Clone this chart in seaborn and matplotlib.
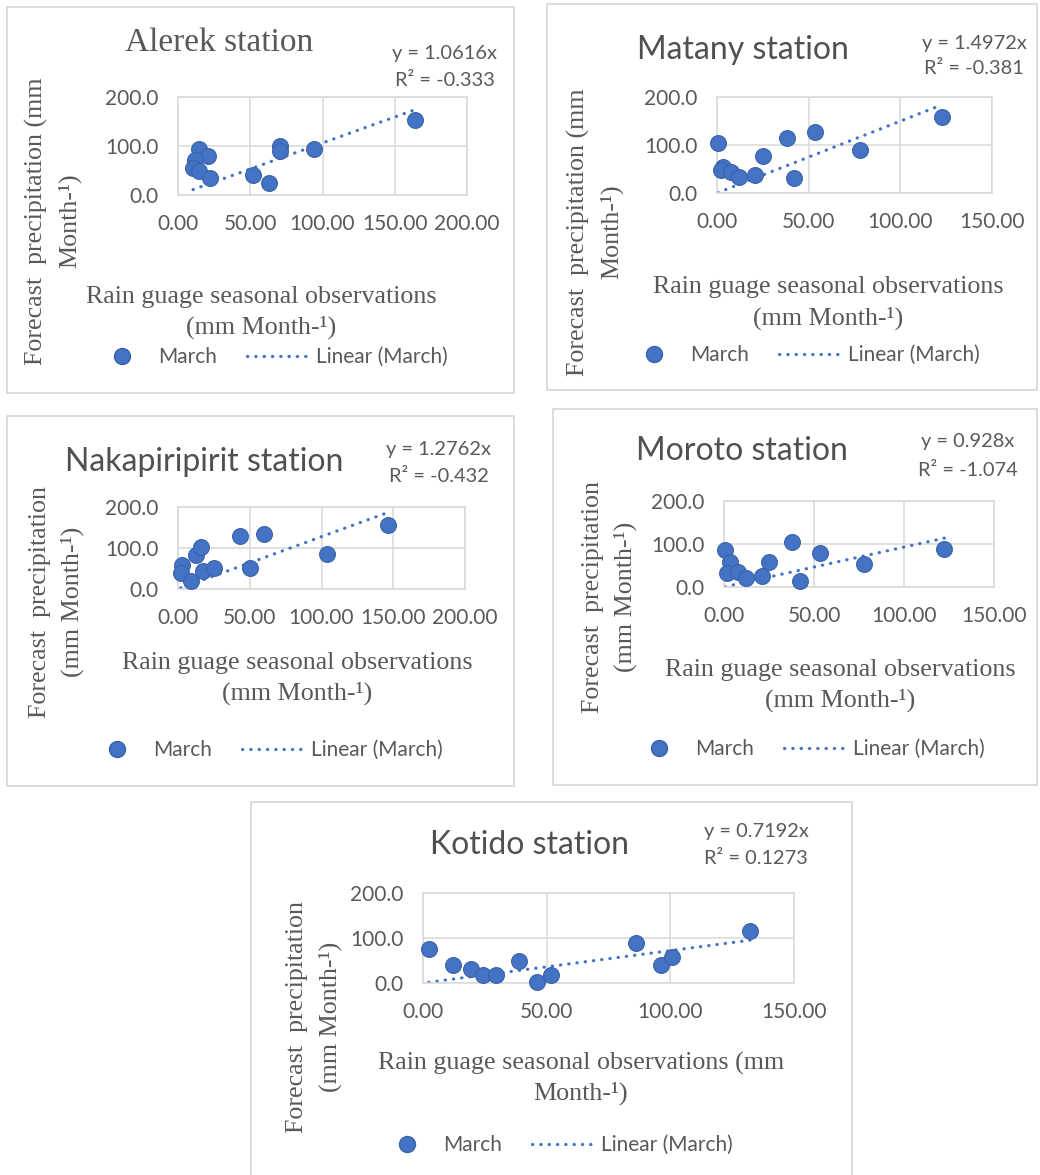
import matplotlib
matplotlib.use("Agg")
import matplotlib.pyplot as plt
from matplotlib.lines import Line2D
from matplotlib.patches import Rectangle
from matplotlib.ticker import FormatStrFormatter
import pandas as pd
import seaborn as sns

# values (mm/month)
stations = ["Alerek", "Matany", "Nakapiripirit", "Moroto", "Kotido"]

alerek_obs = [14.6, 20.8, 11.6, 10.4, 14.6, 22.4, 51.6, 62.9, 70.5, 70.5, 94.1, 163.7]
alerek_fc = [94.7, 79.0, 71.0, 55.0, 48.0, 34.0, 40.0, 25.0, 99.0, 90.0, 94.0, 153.0]

matany_obs = [0.5, 3.3, 2.0, 7.8, 12.0, 20.9, 25.1, 38.4, 42.0, 53.3, 77.8, 122.5]
matany_fc = [105.0, 54.0, 48.0, 44.0, 34.0, 37.0, 78.0, 115.0, 30.5, 127.5, 89.5, 158.0]

nakapiripirit_obs = [3.0, 1.9, 8.8, 12.3, 15.8, 17.4, 24.9, 43.0, 50.0, 60.0, 104.0, 146.0]
nakapiripirit_fc = [57.6, 38.7, 20.6, 82.0, 103.0, 43.6, 52.0, 130.0, 51.0, 134.0, 86.0, 155.0]

moroto_obs = [0.6, 3.3, 1.8, 8.0, 12.2, 20.9, 25.0, 38.0, 42.0, 53.2, 78.0, 122.5]
moroto_fc = [87.0, 57.0, 33.6, 36.0, 20.6, 26.0, 57.0, 104.6, 14.5, 79.0, 53.0, 89.0]

kotido_obs = [2.3, 12.1, 19.5, 24.2, 29.5, 39.0, 46.0, 51.8, 86.1, 96.2, 100.8, 132.2]
kotido_fc = [75.0, 40.4, 30.9, 18.4, 18.4, 50.0, 1.5, 18.4, 89.7, 40.4, 57.4, 116.0]

slopes = [1.0616, 1.4972, 1.2762, 0.928, 0.7192]
r2_labels = ["-0.333", "-0.381", "-0.432", "-1.074", "0.1273"]
x_max = [200, 150, 200, 150, 150]
y_ticks = [0, 100, 200]

obs = [alerek_obs, matany_obs, nakapiripirit_obs, moroto_obs, kotido_obs]
fc = [alerek_fc, matany_fc, nakapiripirit_fc, moroto_fc, kotido_fc]

# layout in pixels (x from left, y from top)
W, H = 1040, 1175
Y1 = ["Forecast  precipitation (mm", "Month-\u00b9)"]
Y2 = ["Forecast  precipitation", "(mm Month-\u00b9)"]
X1 = ["Rain guage seasonal observations", "(mm Month-\u00b9)"]
X2 = ["Rain guage seasonal observations (mm", "Month-\u00b9)"]
layout = [
    dict(box=(7, 7, 514, 393), ax=(178, 97, 467, 195), title=(219, 43), serif_title=True,
         eq=(445, 53, 81), ylab=Y1, ylab_x=(36, 70), ylab_y=221,
         xlab=X1, xlab_x=261, xlab_y=(297, 327), leg=(89.5, 357)),
    dict(box=(547, 4, 1037, 390), ax=(717, 97, 992, 193), title=(743, 50), serif_title=False,
         eq=(974, 43, 69), ylab=Y1, ylab_x=(578, 612), ylab_y=232,
         xlab=X1, xlab_x=828, xlab_y=(287, 318), leg=(621.5, 355)),
    dict(box=(7, 416, 514, 786), ax=(178, 507, 465, 589), title=(204, 462), serif_title=False,
         eq=(439, 449, 476), ylab=Y2, ylab_x=(40, 72), ylab_y=602,
         xlab=X1, xlab_x=297, xlab_y=(663, 693), leg=(84.5, 750)),
    dict(box=(553, 409, 1037, 785), ax=(724, 501, 994, 587), title=(742, 451), serif_title=False,
         eq=(968, 442, 470), ylab=Y2, ylab_x=(593, 625), ylab_y=597,
         xlab=X1, xlab_x=840, xlab_y=(670, 700), leg=(626.5, 749)),
    dict(box=(251, 802, 852, 1180), ax=(423, 893, 794, 983), title=(529, 845), serif_title=False,
         eq=(756, 831, 858), ylab=Y2, ylab_x=(297, 330), ylab_y=1017,
         xlab=X2, xlab_x=581, xlab_y=(1063, 1093), leg=(374.5, 1145)),
]

sns.set_theme(style="white")
SANS = ["Lato", "DejaVu Sans"]
SERIF = ["Liberation Serif", "DejaVu Serif"]
GREY = "#595959"
BLUE = "#4472C4"
EDGE = "#3A63A6"
LIGHT = "#D9D9D9"
plt.rcParams["font.family"] = SANS

fig = plt.figure(figsize=(W / 100, H / 100), dpi=100)


def fx(x):
    return x / W


def fy(y):
    return 1 - y / H


for i, name in enumerate(stations):
    L = layout[i]
    # panel frame
    x0, y0, x1, y1 = L["box"]
    fig.patches.append(Rectangle((fx(x0), fy(y1)), fx(x1 - x0), (y1 - y0) / H,
                                 transform=fig.transFigure, fill=False,
                                 edgecolor=LIGHT, linewidth=1.3))

    a0, b0, a1, b1 = L["ax"]
    ax = fig.add_axes([fx(a0), fy(b1), fx(a1 - a0), (b1 - b0) / H])
    df = pd.DataFrame({"obs": obs[i], "fc": fc[i]})
    sns.scatterplot(data=df, x="obs", y="fc", ax=ax, s=130, color=BLUE,
                    edgecolor=EDGE, linewidth=0.8, zorder=3, clip_on=False)
    # linear trend through origin
    xs = [df["obs"].min(), df["obs"].max()]
    ax.plot(xs, [slopes[i] * v for v in xs], color=BLUE, lw=2.3,
            linestyle=(0, (0.1, 2.5)), dash_capstyle="round", zorder=2)

    ax.set_xlim(0, x_max[i])
    ax.set_ylim(0, 200)
    ax.set_xticks(range(0, x_max[i] + 1, 50))
    ax.set_yticks(y_ticks)
    ax.xaxis.set_major_formatter(FormatStrFormatter("%.2f"))
    ax.yaxis.set_major_formatter(FormatStrFormatter("%.1f"))
    ax.grid(True, color=LIGHT, lw=1.1)
    ax.set_axisbelow(True)
    for sp in ax.spines.values():
        sp.set_color(LIGHT)
        sp.set_linewidth(1.1)
    ax.tick_params(length=0, labelsize=15, labelcolor=GREY)
    ax.tick_params(axis="x", pad=14)
    ax.tick_params(axis="y", pad=14)
    ax.set_xlabel("")
    ax.set_ylabel("")

    # title
    tx, ty = L["title"]
    if L["serif_title"]:
        fig.text(fx(tx), fy(ty), f"{name} station", ha="center", va="center",
                 fontsize=24, color=GREY, family=SERIF)
    else:
        fig.text(fx(tx), fy(ty), f"{name} station", ha="center", va="center",
                 fontsize=23, color="#505050", family=SANS)

    # trendline equation
    ex, e1, e2 = L["eq"]
    fig.text(fx(ex), fy(e1), f"y = {slopes[i]}x", ha="center", va="center",
             fontsize=14.4, color=GREY)
    fig.text(fx(ex), fy(e2), f"R\u00b2 = {r2_labels[i]}", ha="center", va="center",
             fontsize=14.4, color=GREY)

    # axis titles
    for line, lx in zip(L["ylab"], L["ylab_x"]):
        fig.text(fx(lx), fy(L["ylab_y"]), line, rotation=90, ha="center", va="center",
                 fontsize=18.7, color=GREY, family=SERIF)
    for line, ly in zip(L["xlab"], L["xlab_y"]):
        fig.text(fx(L["xlab_x"]), fy(ly), line, ha="center", va="center",
                 fontsize=18.7, color=GREY, family=SERIF)

    # legend
    handles = [
        Line2D([], [], marker="o", linestyle="none", markersize=11.5,
               markerfacecolor=BLUE, markeredgecolor=EDGE),
        Line2D([], [], color=BLUE, lw=2.3, linestyle=(0, (0.1, 2.5)),
               dash_capstyle="round"),
    ]
    lx, ly = L["leg"]
    fig.legend(handles, ["March", "Linear (March)"], loc="center left",
               bbox_to_anchor=(fx(lx), fy(ly)), ncol=2, frameon=False,
               fontsize=15, labelcolor=GREY, handlelength=3.1,
               handletextpad=0.2, columnspacing=1.45, borderpad=0,
               borderaxespad=0)

fig.savefig("out.png", dpi=100, facecolor="white")
